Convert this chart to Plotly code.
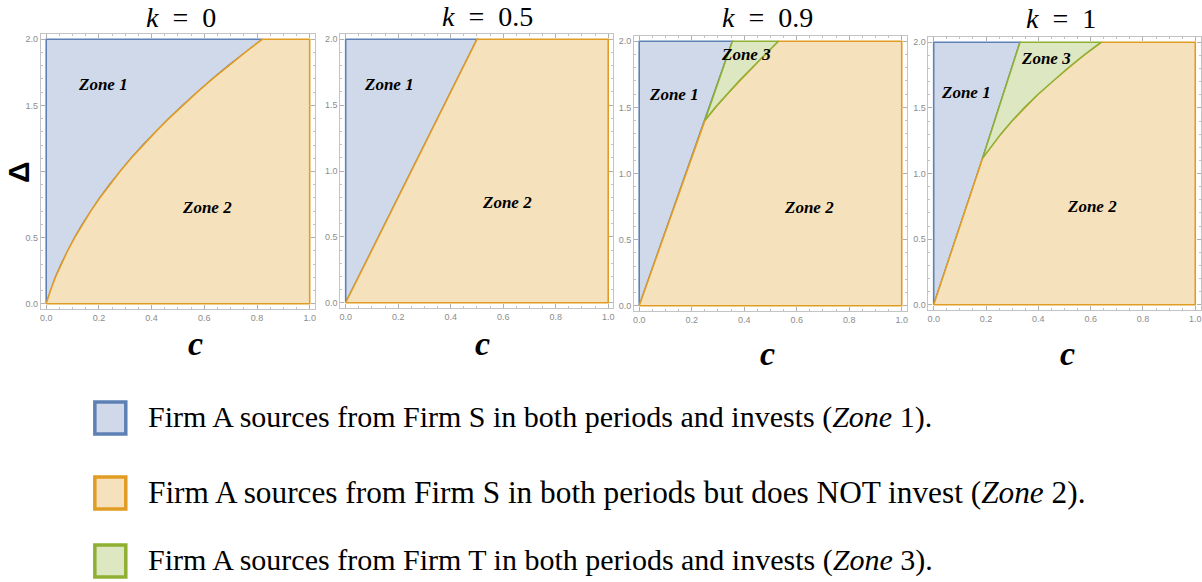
import plotly.graph_objects as go

W, H = 1202, 582

# ---------------- data ----------------
k_labels = ["0", "0.5", "0.9", "1"]

# k = 0 : boundary Zone1 / Zone2 (c, Delta)
k0_b12_c = [0.0, 0.016, 0.035, 0.057, 0.081, 0.108, 0.137, 0.169, 0.203, 0.240, 0.280,
            0.322, 0.367, 0.415, 0.465, 0.518, 0.573, 0.631, 0.691, 0.754, 0.820]
k0_b12_d = [0.0, 0.1, 0.2, 0.3, 0.4, 0.5, 0.6, 0.7, 0.8, 0.9, 1.0,
            1.1, 1.2, 1.3, 1.4, 1.5, 1.6, 1.7, 1.8, 1.9, 2.0]

# k = 0.5 : boundary Zone1 / Zone2
k05_b12_c = [0.0, 0.5]
k05_b12_d = [0.0, 2.0]

# k = 0.9 : boundaries
k09_b12_c = [0.0, 0.25]
k09_b12_d = [0.0, 1.4]
k09_b13_c = [0.25, 0.355]
k09_b13_d = [1.4, 2.0]
k09_b32_c = [0.25, 0.29, 0.335, 0.38, 0.43, 0.478, 0.53]
k09_b32_d = [1.4, 1.5, 1.6, 1.7, 1.8, 1.9, 2.0]

# k = 1 : boundaries
k1_b12_c = [0.0, 0.187]
k1_b12_d = [0.0, 1.117]
k1_b13_c = [0.187, 0.33]
k1_b13_d = [1.117, 2.0]
k1_b32_c = [0.187, 0.217, 0.256, 0.299, 0.346, 0.397, 0.452, 0.511, 0.573, 0.64]
k1_b32_d = [1.117, 1.2, 1.3, 1.4, 1.5, 1.6, 1.7, 1.8, 1.9, 2.0]

c_max, d_max = 1.0, 2.0

# zone label positions (c, Delta)
zone1_pos = [(0.216, 1.66), (0.164, 1.66), (0.133, 1.60), (0.125, 1.62)]
zone2_pos = [(0.61, 0.73), (0.613, 0.76), (0.646, 0.745), (0.605, 0.746)]
zone3_pos = [None, None, (0.407, 1.90), (0.43, 1.88)]

legend_texts = [
    "Firm A sources from Firm S in both periods and invests (<i>Zone</i> 1).",
    "Firm A sources from Firm S in both periods but does NOT invest (<i>Zone</i> 2).",
    "Firm A sources from Firm T in both periods and invests (<i>Zone</i> 3).",
]

# ---------------- styles ----------------
line_col = ["#5E81B5", "#E19C24", "#8FB032"]
fill_col = ["rgb(207,217,233)", "rgb(246,225,189)", "rgb(221,231,193)"]

# panel frames in pixels: left, right, top, bottom
frames = [(40, 315, 34, 309), (340, 614, 34, 308), (634, 908, 36, 311), (929, 1202, 37, 310)]
title_px = [(180, 17), (487, 16), (768, 17), (1062, 19)]
clabel_px = [(195, 343), (482, 343), (768, 353), (1068, 354)]

fig = go.Figure()

panels = [
    dict(b12=(k0_b12_c, k0_b12_d), b13=None, b32=None),
    dict(b12=(k05_b12_c, k05_b12_d), b13=None, b32=None),
    dict(b12=(k09_b12_c, k09_b12_d), b13=(k09_b13_c, k09_b13_d), b32=(k09_b32_c, k09_b32_d)),
    dict(b12=(k1_b12_c, k1_b12_d), b13=(k1_b13_c, k1_b13_d), b32=(k1_b32_c, k1_b32_d)),
]

for i, p in enumerate(panels):
    xa = "x" if i == 0 else f"x{i+1}"
    ya = "y" if i == 0 else f"y{i+1}"
    bc, bd = p["b12"]
    if p["b13"] is None:
        z1x = list(bc) + [0.0]
        z1y = list(bd) + [d_max]
        upper_c = list(bc)
        upper_d = list(bd)
    else:
        c13, d13 = p["b13"]
        c32, d32 = p["b32"]
        z1x = list(bc) + list(c13[1:]) + [0.0]
        z1y = list(bd) + list(d13[1:]) + [d_max]
        upper_c = list(bc) + list(c32[1:])
        upper_d = list(bd) + list(d32[1:])
    # Zone 1
    fig.add_trace(go.Scatter(x=z1x + [z1x[0]], y=z1y + [z1y[0]], mode="lines", fill="toself",
                             fillcolor=fill_col[0], line=dict(color=line_col[0], width=1.6),
                             xaxis=xa, yaxis=ya, hoverinfo="skip"))
    # Zone 2
    z2x = [0.0, c_max, c_max] + upper_c[::-1]
    z2y = [0.0, 0.0, d_max] + upper_d[::-1]
    fig.add_trace(go.Scatter(x=z2x, y=z2y, mode="lines", fill="toself",
                             fillcolor=fill_col[1], line=dict(color=line_col[1], width=1.6),
                             xaxis=xa, yaxis=ya, hoverinfo="skip"))
    # Zone 3
    if p["b13"] is not None:
        z3x = list(c13) + list(c32[::-1])
        z3y = list(d13) + list(d32[::-1])
        fig.add_trace(go.Scatter(x=z3x, y=z3y, mode="lines", fill="toself",
                                 fillcolor=fill_col[2], line=dict(color=line_col[2], width=1.6),
                                 xaxis=xa, yaxis=ya, hoverinfo="skip"))

layout = dict(width=W, height=H, margin=dict(l=0, r=0, t=0, b=0),
              paper_bgcolor="white", plot_bgcolor="white", showlegend=False)

tick_font = dict(family="Liberation Sans", size=9, color="#8c8c8c")
annotations = []
shapes = []
for i, (l, r, t, b) in enumerate(frames):
    xk = "xaxis" if i == 0 else f"xaxis{i+1}"
    yk = "yaxis" if i == 0 else f"yaxis{i+1}"
    yanchor = "x" if i == 0 else f"x{i+1}"
    xanchor = "y" if i == 0 else f"y{i+1}"
    common = dict(showgrid=False, zeroline=False, showline=True, linecolor="#c4c4c4", linewidth=1,
                  mirror="allticks", ticks="inside", ticklen=4, tickcolor="#b0b0b0", tickwidth=1,
                  tickfont=tick_font, fixedrange=True)
    layout[xk] = dict(domain=[l / W, min((r - 0.5) / W, 1.0)], range=[-0.02, 1.02], anchor=xanchor,
                      tickvals=[0, 0.2, 0.4, 0.6, 0.8, 1.0],
                      ticktext=["0.0", "0.2", "0.4", "0.6", "0.8", "1.0"],
                      minor=dict(ticks="inside", ticklen=2, dtick=0.05, tickcolor="#c0c0c0"),
                      **common)
    yt = ["0.0", "0.5", "1.0", "1.5", "2.0"]
    if i == 0:
        yt[2] = ""
    layout[yk] = dict(domain=[1 - b / H, 1 - t / H], range=[-0.04, 2.04], anchor=yanchor,
                      tickvals=[0, 0.5, 1.0, 1.5, 2.0], ticktext=yt,
                      minor=dict(ticks="inside", ticklen=2, dtick=0.1, tickcolor="#c0c0c0"),
                      **common)
    # titles
    tx, ty = title_px[i]
    annotations.append(dict(x=tx / W, y=1 - ty / H, xref="paper", yref="paper", showarrow=False,
                            text=f"<i>k</i>\u2002=\u2002{k_labels[i]}", xanchor="center", yanchor="middle",
                            font=dict(family="Liberation Serif", size=28, color="black")))
    cx, cy = clabel_px[i]
    annotations.append(dict(x=cx / W, y=1 - cy / H, xref="paper", yref="paper", showarrow=False,
                            text="<b><i>c</i></b>", xanchor="center", yanchor="middle",
                            font=dict(family="Liberation Serif", size=34, color="black")))
    # zone labels
    xr = "x" if i == 0 else f"x{i+1}"
    yr = "y" if i == 0 else f"y{i+1}"
    for name, pos in (("Zone 1", zone1_pos[i]), ("Zone 2", zone2_pos[i]), ("Zone 3", zone3_pos[i])):
        if pos is None:
            continue
        annotations.append(dict(x=pos[0], y=pos[1], xref=xr, yref=yr, showarrow=False,
                                text=f"<b><i>{name}</i></b>", xanchor="center", yanchor="middle",
                                font=dict(family="Liberation Serif", size=17, color="black")))

# Delta axis label
annotations.append(dict(x=17 / W, y=1 - 172 / H, xref="paper", yref="paper", showarrow=False,
                        text="<b>Δ</b>", textangle=-90, xanchor="center", yanchor="middle",
                        font=dict(family="Liberation Sans", size=30, color="black")))

# legend
leg_y = [(402, 434), (477, 509), (545, 577)]
leg_size = [30, 31.3, 30]
for j, (y0, y1) in enumerate(leg_y):
    shapes.append(dict(type="rect", xref="paper", yref="paper",
                       x0=94 / W, x1=125 / W, y0=1 - y1 / H, y1=1 - y0 / H,
                       line=dict(color=line_col[j], width=3.5), fillcolor=fill_col[j]))
    annotations.append(dict(x=145 / W, y=1 - ((y0 + y1) / 2 - 1) / H, xref="paper", yref="paper",
                            showarrow=False, text=legend_texts[j], xanchor="left", yanchor="middle",
                            font=dict(family="Liberation Serif", size=leg_size[j], color="black")))

layout["annotations"] = annotations
layout["shapes"] = shapes
fig.update_layout(**layout)
fig.write_html("out.html", config={"displayModeBar": False},
               post_script="document.body.style.margin='0px';")
